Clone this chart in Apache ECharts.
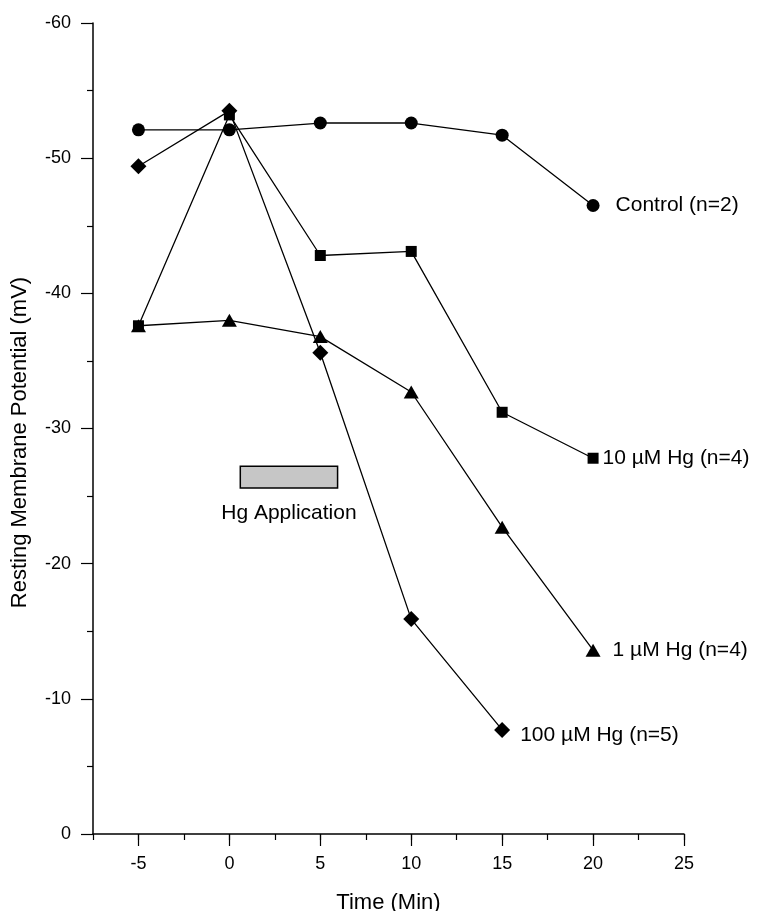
<!DOCTYPE html>
<html>
<head>
<meta charset="utf-8">
<script src="https://cdn.jsdelivr.net/npm/echarts@6/dist/echarts.min.js"></script>
<style>
  html, body { margin: 0; padding: 0; background: #fff; }
  #main { width: 764px; height: 911px; }
</style>
</head>
<body>
<div id="main"></div>
<script>
var chartDom = document.getElementById('main');
var myChart = echarts.init(chartDom);

// time points (min)
var times = [-5, 0, 5, 10, 15, 20];
var xTicks = [-5, 0, 5, 10, 15, 20, 25];

// resting membrane potential (mV)
var control = [-52.1, -52.1, -52.6, -52.6, -51.7, -46.5];
var hg10 = [-37.6, -53.2, -42.8, -43.1, -31.2, -27.8];
var hg1 = [-37.6, -38.0, -36.8, -32.7, -22.7, -13.6];
var hg100 = [-49.4, -53.5, -35.6, -15.9, -7.7];

// Hg application bar (time range, mV range)
var hgBarX = [0.6, 5.95];
var hgBarY = [-27.2, -25.6];

var font = 'Liberation Sans, Arial, sans-serif';

function makeSeries(name, vals, symbol, size, dist, offset) {
  var data = vals.map(function (v, i) {
    var item = { value: [times[i], v] };
    if (i === vals.length - 1) {
      item.label = {
        show: true,
        formatter: name,
        position: 'right',
        distance: dist,
        offset: offset || [0, 0],
        fontSize: 21,
        fontFamily: font,
        color: '#000'
      };
    }
    return item;
  });
  return {
    name: name,
    type: 'line',
    data: data,
    symbol: symbol,
    symbolSize: size,
    showAllSymbol: true,
    lineStyle: { color: '#000', width: 1.3 },
    itemStyle: { color: '#000' },
    emphasis: { disabled: true }
  };
}

var sControl = makeSeries('Control (n=2)', control, 'circle', 13, 16);
var s10 = makeSeries('10 µM Hg (n=4)', hg10, 'rect', 11, 4);
var s1 = makeSeries('1 µM Hg (n=4)', hg1, 'triangle', [15, 13], 12);
var s100 = makeSeries('100 µM Hg (n=5)', hg100, 'diamond', 16, 10, [0, 5]);

sControl.markArea = {
  silent: true,
  itemStyle: { color: '#c6c6c6', borderColor: '#000', borderWidth: 1.5 },
  label: {
    show: true,
    position: 'bottom',
    distance: 14,
    fontSize: 21,
    fontFamily: font,
    color: '#000'
  },
  data: [[
    { name: 'Hg Application', coord: [hgBarX[0], hgBarY[0]] },
    { coord: [hgBarX[1], hgBarY[1]] }
  ]]
};

var option = {
  animation: false,
  backgroundColor: '#fff',
  grid: { left: 93, right: 80, top: 23, bottom: 77, outerBoundsMode: 'none' },
  xAxis: [
    {
      type: 'value',
      position: 'bottom',
      min: -7.5,
      max: 25,
      interval: 2.5,
      axisLine: { onZero: false, lineStyle: { color: '#000', width: 1.5 } },
      axisTick: { length: 6, lineStyle: { color: '#000', width: 1.2 } },
      axisLabel: { show: false },
      splitLine: { show: false }
    },
    {
      type: 'value',
      position: 'bottom',
      min: -7.5,
      max: 25,
      interval: 2.5,
      axisLine: { show: false, onZero: false },
      axisTick: { customValues: xTicks, length: 12, lineStyle: { color: '#000', width: 1.2 } },
      axisLabel: { customValues: xTicks, fontSize: 18, fontFamily: font, color: '#000', margin: 21 },
      splitLine: { show: false },
      name: 'Time (Min)',
      nameLocation: 'middle',
      nameGap: 58,
      nameTextStyle: { fontSize: 22, fontFamily: font, color: '#000' }
    }
  ],
  yAxis: {
    type: 'value',
    inverse: true,
    min: -60,
    max: 0,
    interval: 10,
    axisLine: { show: true, onZero: false, lineStyle: { color: '#000', width: 1.5 } },
    axisTick: { show: true, length: 12, lineStyle: { color: '#000', width: 1.2 } },
    minorTick: { show: true, splitNumber: 2, length: 6, lineStyle: { color: '#000', width: 1.2 } },
    axisLabel: { fontSize: 18, fontFamily: font, color: '#000', margin: 22 },
    splitLine: { show: false },
    name: 'Resting Membrane Potential (mV)',
    nameLocation: 'middle',
    nameRotate: 90,
    nameGap: 62,
    nameTextStyle: { fontSize: 22, fontFamily: font, color: '#000', padding: [0, 28, 0, 0] }
  },
  series: [sControl, s1, s10, s100]
};

myChart.setOption(option);
</script>
</body>
</html>
